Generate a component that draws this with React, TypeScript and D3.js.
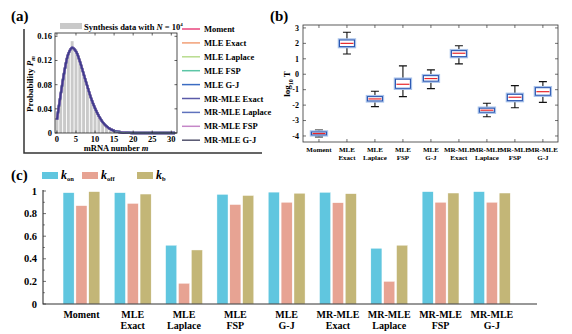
import React, { useEffect, useRef } from 'react'
import * as d3 from 'd3'

// ---- data ----
const methods = ['Moment', 'MLE Exact', 'MLE Laplace', 'MLE FSP', 'MLE G-J', 'MR-MLE Exact', 'MR-MLE Laplace', 'MR-MLE FSP', 'MR-MLE G-J']
const methodLines = [['Moment'], ['MLE', 'Exact'], ['MLE', 'Laplace'], ['MLE', 'FSP'], ['MLE', 'G-J'], ['MR-MLE', 'Exact'], ['MR-MLE', 'Laplace'], ['MR-MLE', 'FSP'], ['MR-MLE', 'G-J']]
const methodColors = ['#e8457c', '#f2a077', '#b8dc8e', '#5cc6a6', '#3b6cc2', '#5a5aa8', '#5f72bd', '#c587c8', '#54546e']

// panel (a): mRNA histogram and fitted distribution
const mRNA = [0, 1, 2, 3, 4, 5, 6, 7, 8, 9, 10, 11, 12, 13, 14, 15, 16, 17, 18, 19, 20, 21, 22, 23, 24, 25, 26, 27, 28, 29, 30, 31]
const histP = [0.024, 0.062, 0.102, 0.132, 0.152, 0.138, 0.12, 0.097, 0.076, 0.056, 0.041, 0.029, 0.019, 0.012, 0.007, 0.004, 0.002, 0.001, 0.0006, 0.0003, 0.0002, 0.0001, 0, 0, 0, 0, 0, 0, 0, 0, 0, 0]
const fitP = [0.022, 0.064, 0.103, 0.131, 0.141, 0.135, 0.119, 0.098, 0.077, 0.057, 0.041, 0.028, 0.018, 0.011, 0.0065, 0.0037, 0.002, 0.001, 0.0005, 0.00025, 0.0001, 0.00005, 0, 0, 0, 0, 0, 0, 0, 0, 0, 0]
const xTicksA = [0, 5, 10, 15, 20, 25, 30]
const yTicksA = [0, 0.04, 0.08, 0.12, 0.16]

// panel (b): log10 T box stats
const boxLow = [-4.06, 1.31, -2.1, -1.45, -0.93, 0.67, -2.75, -2.17, -1.82]
const boxQ1 = [-3.93, 1.79, -1.73, -0.91, -0.45, 1.14, -2.46, -1.71, -1.36]
const boxMed = [-3.84, 2.0, -1.6, -0.65, -0.28, 1.36, -2.33, -1.49, -1.13]
const boxQ3 = [-3.74, 2.22, -1.45, -0.32, -0.09, 1.53, -2.2, -1.3, -0.87]
const boxHigh = [-3.61, 2.72, -1.1, 0.54, 0.28, 1.85, -1.88, -0.74, -0.48]
const yTicksB = [-4, -3, -2, -1, 0, 1, 2, 3]

// panel (c): parameter accuracy
const kOn = [0.985, 0.985, 0.52, 0.97, 0.99, 0.988, 0.493, 0.994, 0.994]
const kOff = [0.87, 0.89, 0.183, 0.88, 0.9, 0.896, 0.2, 0.9, 0.9]
const kB = [0.994, 0.973, 0.478, 0.96, 0.98, 0.976, 0.52, 0.982, 0.982]
const paramKeys = ['on', 'off', 'b']
const paramColors = ['#60c6df', '#e7a393', '#c3b677']
const yTicksC = [0, 0.2, 0.4, 0.6, 0.8, 1]

const serif = '"Liberation Serif", "Times New Roman", serif'

export default function App() {
  const ref = useRef<SVGSVGElement>(null)

  useEffect(() => {
    const svg = d3.select(ref.current)
    svg.selectAll('*').remove()
    svg.attr('font-family', serif).attr('font-weight', 'bold')

    // panel labels
    svg.append('text').attr('x', 11).attr('y', 21).attr('font-size', 15).text('(a)')
    svg.append('text').attr('x', 270).attr('y', 21).attr('font-size', 15).text('(b)')
    svg.append('text').attr('x', 11).attr('y', 180).attr('font-size', 15).text('(c)')

    // ========== panel (a) ==========
    svg.append('path').attr('d', 'M24,29V153H262').attr('fill', 'none').attr('stroke', '#333').attr('stroke-width', 1.5)

    const xa = d3.scaleLinear().domain([-0.5, 31.5]).range([55, 177])
    const ya = d3.scaleLinear().domain([0, 0.1655]).range([133, 33])
    const ga = svg.append('g')

    ga.selectAll('rect.h').data(mRNA).join('rect')
      .attr('x', d => xa(d - 0.38)).attr('width', xa(0.76) - xa(0))
      .attr('y', (d, i) => ya(histP[i])).attr('height', (d, i) => ya(0) - ya(histP[i]))
      .attr('fill', '#c9c9c9')

    const line = d3.line<number>().x((d, i) => xa(mRNA[i])).y(d => ya(d)).curve(d3.curveCatmullRom)
    methods.forEach((m, i) => {
      ga.append('path').attr('d', line(fitP)).attr('fill', 'none')
        .attr('stroke', i === methods.length - 1 ? '#3f3c8c' : methodColors[i])
        .attr('stroke-width', i === methods.length - 1 ? 2 : 2.4)
    })
    // faint tail colour of the lighter curves
    ga.append('path').attr('d', line(fitP.slice(15))).attr('transform', `translate(${xa(15) - xa(0)},0)`)
      .attr('fill', 'none').attr('stroke', '#8fc9a8').attr('stroke-width', 1).attr('opacity', 0.6)

    ga.append('rect').attr('x', 55).attr('y', 33).attr('width', 122).attr('height', 100)
      .attr('fill', 'none').attr('stroke', '#222').attr('stroke-width', 0.8)
    xTicksA.forEach(t => {
      ga.append('path').attr('d', `M${xa(t)},133v-2.5M${xa(t)},33v2.5`).attr('stroke', '#222').attr('stroke-width', 0.7)
      ga.append('text').attr('x', xa(t)).attr('y', 142).attr('text-anchor', 'middle').attr('font-size', 8.5).text(t)
    })
    yTicksA.forEach(t => {
      ga.append('path').attr('d', `M55,${ya(t)}h2.5M177,${ya(t)}h-2.5`).attr('stroke', '#222').attr('stroke-width', 0.7)
      ga.append('text').attr('x', 52).attr('y', ya(t) + 3).attr('text-anchor', 'end').attr('font-size', 8.5).text(t === 0 ? '0' : d3.format('.2f')(t))
    })
    const xl = ga.append('text').attr('x', 116).attr('y', 151).attr('text-anchor', 'middle').attr('font-size', 8.5)
    xl.append('tspan').text('mRNA number ')
    xl.append('tspan').attr('font-style', 'italic').text('m')
    const yl = ga.append('text').attr('transform', 'translate(33,84) rotate(-90)').attr('text-anchor', 'middle').attr('font-size', 9)
    yl.append('tspan').text('Probability ')
    yl.append('tspan').attr('font-style', 'italic').text('P')
    yl.append('tspan').attr('font-style', 'italic').attr('font-size', 6).attr('dy', 2).text('m')

    // histogram legend
    ga.append('rect').attr('x', 60).attr('y', 23).attr('width', 22).attr('height', 6).attr('fill', '#c9c9c9')
    const hl = ga.append('text').attr('x', 84).attr('y', 29.5).attr('font-size', 8.5)
    hl.append('tspan').text('Synthesis data with ')
    hl.append('tspan').attr('font-style', 'italic').text('N')
    hl.append('tspan').text(' = 10')
    hl.append('tspan').attr('font-size', 5).attr('dy', -4).text('4')

    // method legend
    methods.forEach((m, i) => {
      const y = 29 + 13.9 * i
      ga.append('line').attr('x1', 182).attr('x2', 200).attr('y1', y).attr('y2', y)
        .attr('stroke', methodColors[i]).attr('stroke-width', 1.5)
      ga.append('text').attr('x', 204).attr('y', y + 3).attr('font-size', 8.5).text(m)
    })

    // ========== panel (b) ==========
    const xb = d3.scaleLinear().domain([0.43, 9.54]).range([303, 558])
    const yb = d3.scaleLinear().domain([-4.39, 3.19]).range([142, 25])
    const gb = svg.append('g')
    gb.append('rect').attr('x', 303).attr('y', 25).attr('width', 255).attr('height', 117)
      .attr('fill', 'none').attr('stroke', '#333').attr('stroke-width', 0.8)
    yTicksB.forEach(t => {
      gb.append('path').attr('d', `M303,${yb(t)}h3M558,${yb(t)}h-3`).attr('stroke', '#333').attr('stroke-width', 0.7)
      gb.append('text').attr('x', 299).attr('y', yb(t) + 2.8).attr('text-anchor', 'end').attr('font-size', 8).text(t < 0 ? '-' + Math.abs(t) : t)
    })
    const bw = 15
    methods.forEach((m, i) => {
      const cx = xb(i + 1)
      const top = yb(boxQ3[i])
      const h = yb(boxQ1[i]) - top
      gb.append('path').attr('d', `M${cx},142v-3M${cx},25v3`).attr('stroke', '#333').attr('stroke-width', 0.7)
      gb.append('path').attr('d', `M${cx},${yb(boxHigh[i])}V${top}M${cx},${yb(boxQ1[i])}V${yb(boxLow[i])}M${cx - 4},${yb(boxHigh[i])}h8M${cx - 4},${yb(boxLow[i])}h8`)
        .attr('stroke', '#111').attr('stroke-width', 1.1).attr('fill', 'none')
      // soft halo outside the box edge
      gb.append('rect').attr('x', cx - bw / 2 - 1).attr('y', top - 1).attr('width', bw + 2).attr('height', h + 2)
        .attr('fill', '#fff').attr('stroke', '#a9c3ea').attr('stroke-width', 1.4)
      gb.append('rect').attr('x', cx - bw / 2).attr('y', top).attr('width', bw).attr('height', h)
        .attr('fill', '#fff').attr('stroke', '#2b57b2').attr('stroke-width', 1.1)
      gb.append('line').attr('x1', cx - bw / 2 + 1).attr('x2', cx + bw / 2 - 1).attr('y1', yb(boxMed[i])).attr('y2', yb(boxMed[i]))
        .attr('stroke', '#e8262a').attr('stroke-width', 1.2)
      methodLines[i].forEach((s, j) => {
        gb.append('text').attr('x', cx).attr('y', 152 + j * 8).attr('text-anchor', 'middle').attr('font-size', 7).text(s)
      })
    })
    const bl = gb.append('text').attr('transform', 'translate(290,84) rotate(-90)').attr('text-anchor', 'middle').attr('font-size', 9)
    bl.append('tspan').text('log')
    bl.append('tspan').attr('font-size', 6).attr('dy', 2.5).text('10')
    bl.append('tspan').attr('dy', -2.5).text(' T')

    // ========== panel (c) ==========
    const xc = d3.scaleBand<string>().domain(methods).range([55.8, 517.5]).padding(0)
    const xs = d3.scaleBand<string>().domain(paramKeys).range([-18.4, 18.4]).paddingInner(0.14)
    const yc = d3.scaleLinear().domain([0, 1]).range([304, 191])
    const gc = svg.append('g')
    const vals = [kOn, kOff, kB]
    methods.forEach((m, i) => {
      const cx = xc(m)! + xc.bandwidth() / 2
      paramKeys.forEach((k, j) => {
        gc.append('rect').attr('x', cx + xs(k)!).attr('width', xs.bandwidth())
          .attr('y', yc(vals[j][i])).attr('height', yc(0) - yc(vals[j][i]))
          .attr('fill', paramColors[j]).attr('stroke', '#fff').attr('stroke-width', 0.4)
      })
      methodLines[i].forEach((s, j) => {
        gc.append('text').attr('x', cx).attr('y', 318 + j * 11).attr('text-anchor', 'middle').attr('font-size', 10).text(s)
      })
    })
    gc.append('path').attr('d', `M43,${yc(1) - 1}V304H537`).attr('fill', 'none').attr('stroke', '#333').attr('stroke-width', 1.1)
    d3.range(0, 1.01, 0.1).forEach(t => {
      gc.append('path').attr('d', `M43,${yc(t)}h${Math.round(t * 10) % 2 === 0 ? 3 : 1.8}`).attr('stroke', '#333').attr('stroke-width', 0.7)
    })
    yTicksC.forEach(t => {
      gc.append('text').attr('x', 37).attr('y', yc(t) + 3.5).attr('text-anchor', 'end').attr('font-size', 10.5).text(t)
    })
    // legend
    const legX = [42, 82, 137]
    paramKeys.forEach((k, j) => {
      gc.append('rect').attr('x', legX[j]).attr('y', 172).attr('width', 16).attr('height', 7).attr('fill', paramColors[j])
      const t = gc.append('text').attr('x', legX[j] + 19).attr('y', 179).attr('font-size', 12)
      t.append('tspan').attr('font-style', 'italic').text('k')
      t.append('tspan').attr('font-size', 6.5).attr('dy', 2).text(k)
    })
  }, [])

  return (
    <svg ref={ref} width={572} height={334} viewBox="0 0 572 334"
      style={{ position: 'absolute', left: 0, top: 0, background: '#fff' }} />
  )
}
